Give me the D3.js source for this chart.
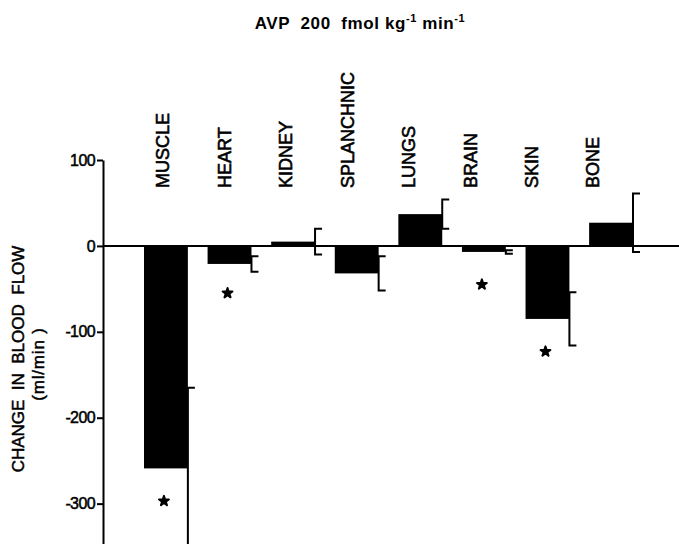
<!DOCTYPE html>
<html>
<head>
<meta charset="utf-8">
<script src="https://cdn.jsdelivr.net/npm/d3@7"></script>
<style>
	body { margin: 0; background: #fff; }
	text { font-family: "Liberation Sans", Arial, sans-serif; fill: #000; white-space: pre; }
</style>
</head>
<body>
<div id="chart"></div>
<script>
// organs and mean change in blood flow (ml/min) with SE
var organs = ["MUSCLE", "HEART", "KIDNEY", "SPLANCHNIC", "LUNGS", "BRAIN", "SKIN", "BONE"];
var meanChange = [-259, -21, 5, -32, 37, -7, -85, 27];
var seChange = [94, 9, 15, 20, 17, 2, 31, 34];
// significance stars
var starOrgans = ["MUSCLE", "HEART", "BRAIN", "SKIN"];
var starValues = [-297, -55, -45, -123];
var yTicks = [100, 0, -100, -200, -300];

function draw_chart() {
	var w = 679;
	var h = 544;

	var svg = d3.select("#chart")
				.append("svg")
				.attr("width", w)
				.attr("height", h);

	var y = d3.scaleLinear()
			  .domain([-347, 100])
			  .range([h, 160]);

	var x = d3.scaleBand()
			  .domain(organs)
			  .range([144, 633])
			  .paddingInner(0.31)
			  .paddingOuter(0);

	// labels sit a bit tighter than the bars
	var xLab = d3.scalePoint()
				 .domain(organs)
				 .range([163, 593]);

	var data = organs.map((o, i) => ({organ: o, mean: meanChange[i], se: seChange[i]}));

	svg.append("defs").append("clipPath")
		.attr("id", "plotclip")
		.append("rect")
		.attr("x", 0).attr("y", 0)
		.attr("width", w).attr("height", h);

	var plot = svg.append("g").attr("clip-path", "url(#plotclip)");

	// bars
	plot.selectAll("rect.bar")
		.data(data)
		.enter()
		.append("rect")
		.attr("class", "bar")
		.attr("x", d => x(d.organ))
		.attr("width", x.bandwidth())
		.attr("y", d => y(Math.max(0, d.mean)))
		.attr("height", d => Math.abs(y(d.mean) - y(0)))
		.attr("fill", "black");

	// error brackets on right edge of each bar
	var eb = plot.selectAll("g.err")
		.data(data)
		.enter()
		.append("g")
		.attr("class", "err");

	eb.append("path")
		.attr("d", d => {
			var xe = x(d.organ) + x.bandwidth();
			var y1 = y(d.mean + d.se);
			var y2 = y(d.mean - d.se);
			return "M" + (xe + 7) + "," + y1 + "H" + xe + "V" + y2 + "H" + (xe + 7);
		})
		.attr("fill", "none")
		.attr("stroke", "black")
		.attr("stroke-width", 2);

	// zero line
	svg.append("line")
		.attr("x1", 103)
		.attr("x2", w)
		.attr("y1", y(0))
		.attr("y2", y(0))
		.attr("stroke", "black")
		.attr("stroke-width", 2);

	// y axis
	var yAxis = d3.axisLeft(y)
				  .tickValues(yTicks)
				  .tickFormat(d => String(d))
				  .tickSize(6)
				  .tickSizeOuter(0)
				  .tickPadding(2);

	var ga = svg.append("g")
		.attr("transform", "translate(103,0)")
		.call(yAxis);
	ga.select(".domain").attr("stroke-width", 2);
	ga.selectAll(".tick line").attr("stroke-width", 2);
	ga.selectAll(".tick text")
		.style("font-size", "16px")
		.style("font-family", "'Liberation Sans', Arial, sans-serif")
		.style("stroke", "#000")
		.style("stroke-width", "0.5px")
		.attr("letter-spacing", "-0.6px");

	// stars
	var starData = starOrgans.map((o, i) => ({organ: o, v: starValues[i]}));
	svg.selectAll("path.star")
		.data(starData)
		.enter()
		.append("path")
		.attr("class", "star")
		.attr("d", d3.symbol(d3.symbolStar).size(30))
		.attr("transform", d => "translate(" + (x(d.organ) + x.bandwidth() / 2 - 2) + "," + y(d.v) + ")")
		.attr("fill", "black")
		.attr("stroke", "black")
		.attr("stroke-width", 2)
		.attr("stroke-linejoin", "round");

	// organ labels
	svg.selectAll("text.organ")
		.data(organs)
		.enter()
		.append("text")
		.attr("class", "organ")
		.attr("transform", d => "translate(" + xLab(d) + ",188) rotate(-90)")
		.attr("dy", "0.36em")
		.style("font-size", "18px")
		.style("stroke", "#000")
		.style("stroke-width", "0.6px")
		.text(d => d);

	// y title
	var yt = svg.append("text")
		.attr("transform", "translate(0,359) rotate(-90)")
		.attr("text-anchor", "middle")
		.style("font-size", "17px")
		.style("stroke", "#000")
		.style("stroke-width", "0.5px");
	yt.append("tspan").attr("x", 0).attr("y", 24).text("CHANGE  IN  BLOOD  FLOW");
	yt.append("tspan").attr("x", -5).attr("y", 44).attr("letter-spacing", "0.8px").text("(ml/min )");

	// title
	var t = svg.append("text")
		.attr("x", 360)
		.attr("y", 29)
		.attr("text-anchor", "middle")
		.style("font-size", "17px")
		.style("font-weight", "bold")
		.attr("letter-spacing", "0.6px");
	t.append("tspan").text("AVP  200  fmol kg");
	t.append("tspan").attr("dy", -7).style("font-size", "11px").text("-1");
	t.append("tspan").attr("dy", 7).text(" min");
	t.append("tspan").attr("dy", -7).style("font-size", "11px").text("-1");
}

draw_chart();
</script>
</body>
</html>
